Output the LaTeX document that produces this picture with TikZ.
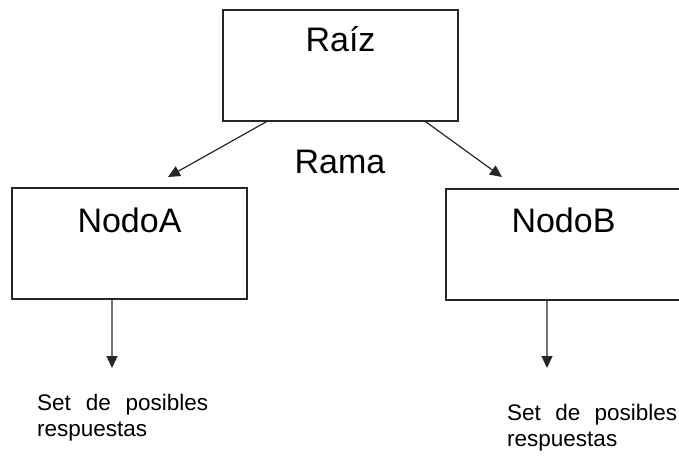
\documentclass[tikz,border=0pt]{standalone}
\usepackage{fontspec}
\setmainfont{Liberation Sans}
\usetikzlibrary{arrows.meta,calc}

\tikzset{
  box/.style={draw=black!85, line width=1.3pt, minimum width=235pt, minimum height=111pt, inner sep=0pt},
  title/.style={font=\fontsize{34}{40}\selectfont, inner sep=0pt, anchor=base},
  answer/.style={font=\fontsize{22.5}{26.5}\selectfont, inner sep=0pt, anchor=base west, align=left},
  link/.style={draw=black!85, line width=1.2pt, -{Triangle[length=12pt,width=11pt]}}
}

\begin{document}
\begin{tikzpicture}[x=1pt,y=-1pt]
  \useasboundingbox (0,0) rectangle (679,460);

  % tree boxes
  \node[box] (raiz)  at (340.5,65.5) {};
  \node[box] (nodoa) at (129.5,243.5) {};
  \node[box] (nodob) at (563.5,244.5) {};

  % box titles and branch label
  \node[title] (traiz)  at (340.5,52) {Raíz};
  \node[title] (tnodoa) at (129.5,232) {NodoA};
  \node[title] (tnodob) at (563.5,232) {NodoB};
  \node[title] (rama)   at (340,173) {Rama};

  % arrow ends
  \coordinate (tipa) at (168,177);
  \coordinate (tipb) at (502,177);
  \coordinate (downa) at (112,368);
  \coordinate (downb) at (547,368);

  % branches from the root
  \draw[link] ($(raiz.south west)!0.187!(raiz.south east)$) -- (tipa);
  \draw[link] ($(raiz.south west)!0.86!(raiz.south east)$) -- (tipb);

  % outputs of the leaves
  \draw[link] ($(nodoa.south west)!0.426!(nodoa.south east)$) -- (downa);
  \draw[link] ($(nodob.south west)!0.43!(nodob.south east)$) -- (downb);

  % answer sets (anchored on the baseline of the last line)
  \node[answer] (seta) at (37,436.5) {\makebox[171pt][s]{Set de posibles}\\respuestas};
  \node[answer] (setb) at (507,446.5) {\makebox[170pt][s]{Set de posibles}\\respuestas};
\end{tikzpicture}
\end{document}
